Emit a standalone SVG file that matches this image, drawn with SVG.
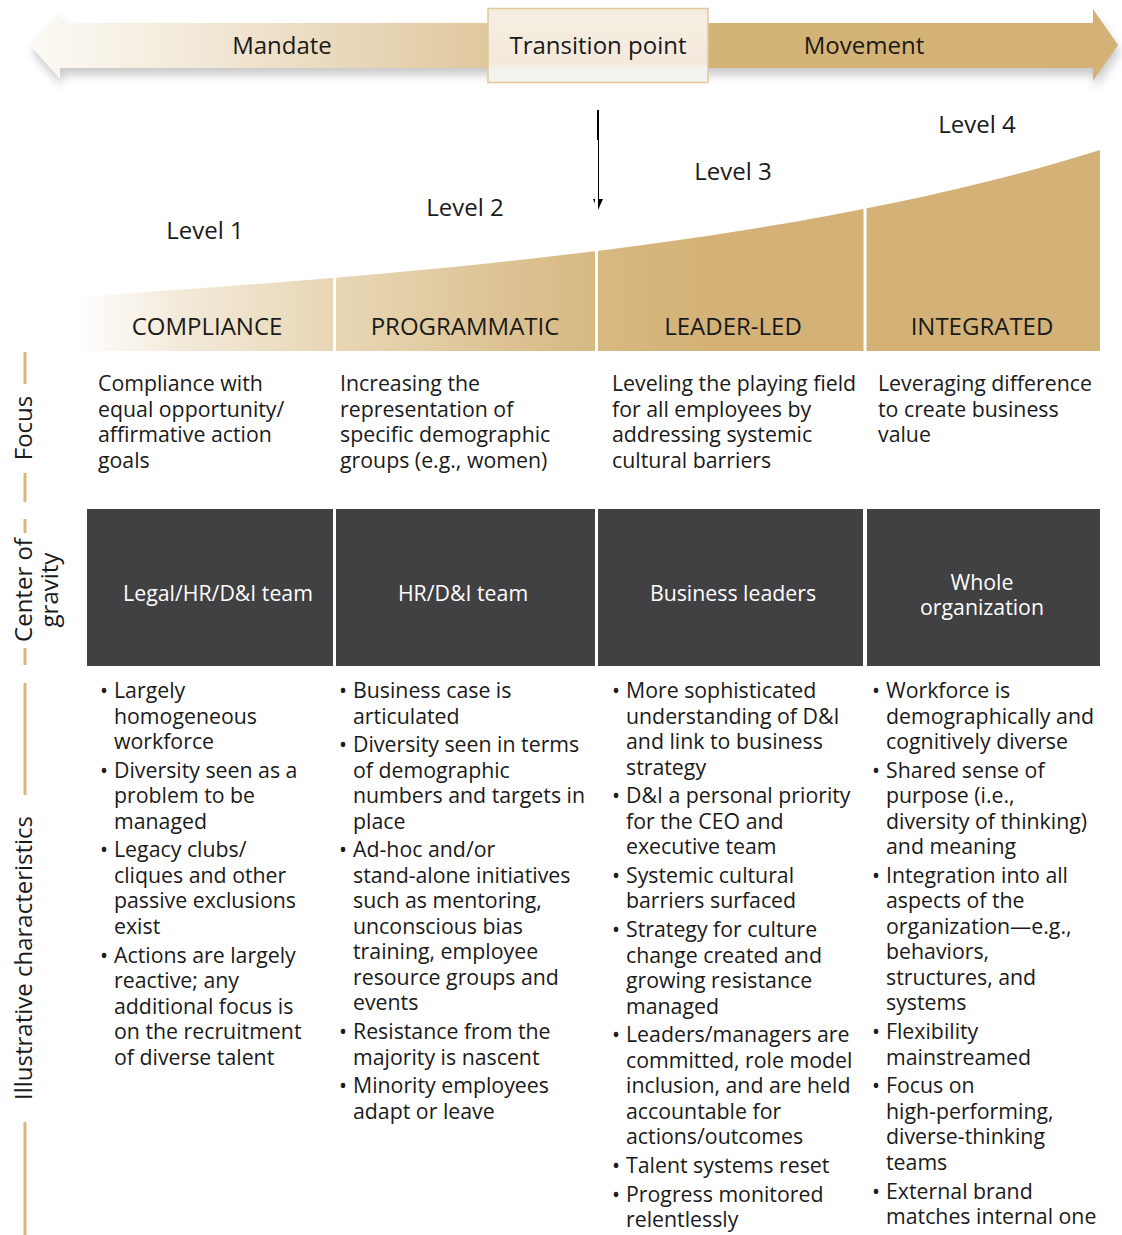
<svg xmlns="http://www.w3.org/2000/svg" width="1122" height="1235" viewBox="0 0 1122 1235">
<style>
text{font-family:"Open Sans","Noto Sans","Liberation Sans",sans-serif;fill:#1a1a1a}
.t22{font-size:24px}
.c{text-anchor:middle}
.b{font-size:21.3px}
.w{fill:#ffffff;font-size:21.3px;text-anchor:middle}
.gold{stroke:#d9b877;stroke-width:3;fill:none}
.dark{fill:#414042}
</style>
<defs>
<linearGradient id="ag" x1="30" y1="0" x2="1118" y2="0" gradientUnits="userSpaceOnUse">
<stop offset="0" stop-color="#fcfaf5"/>
<stop offset="0.17" stop-color="#f1e7d5"/>
<stop offset="0.45" stop-color="#dec497"/>
<stop offset="0.62" stop-color="#d4b377"/>
<stop offset="1" stop-color="#d4b277"/>
</linearGradient>
<linearGradient id="cg" x1="75" y1="0" x2="1100" y2="0" gradientUnits="userSpaceOnUse">
<stop offset="0" stop-color="#ffffff"/>
<stop offset="0.1" stop-color="#f3eadb"/>
<stop offset="0.25" stop-color="#e8d7b6"/>
<stop offset="0.5" stop-color="#d7b983"/>
<stop offset="0.62" stop-color="#d4b277"/>
<stop offset="1" stop-color="#d4b277"/>
</linearGradient>
<linearGradient id="tg" x1="0" y1="0" x2="0" y2="1">
<stop offset="0" stop-color="#f6eee2"/>
<stop offset="0.75" stop-color="#f3eadc"/>
<stop offset="0.8" stop-color="#f3f1ec"/>
<stop offset="1" stop-color="#f5f3ef"/>
</linearGradient>
<filter id="sh" x="-5%" y="-30%" width="110%" height="180%">
<feDropShadow dx="2" dy="7" stdDeviation="5" flood-color="#888888" flood-opacity="0.45"/>
</filter>
</defs>

<g id="top-arrow">
<polygon points="30,45 60,11 60,23 1093,23 1093,9 1118,45 1093,81 1093,68 60,68 60,79" fill="url(#ag)" filter="url(#sh)"/>
<text class="t22 c" x="282" y="54">Mandate</text>
<text class="t22 c" x="864" y="54">Movement</text>
</g>
<g id="transition-point">
<rect x="488" y="8.5" width="220" height="74" fill="url(#tg)" stroke="#e2c89b" stroke-width="1.5"/>
<text class="t22 c" x="598" y="54">Transition point</text>
</g>

<g id="connectors">
<line x1="598" y1="110" x2="598" y2="202" stroke="#000" stroke-width="2"/>
<path d="M593,199 L603,199 L598,210 Z" fill="#000"/>
</g>

<g id="levels">
<path d="M75,297 C400,275 800,245 1100,150 L1100,351 L75,351 Z" fill="url(#cg)"/>
<line x1="334.5" y1="140" x2="334.5" y2="352" stroke="#fff" stroke-width="3"/>
<line x1="596.5" y1="140" x2="596.5" y2="352" stroke="#fff" stroke-width="3"/>
<line x1="865" y1="140" x2="865" y2="352" stroke="#fff" stroke-width="3"/>
<text class="t22 c" x="205" y="239">Level 1</text>
<text class="t22 c" x="465" y="216">Level 2</text>
<text class="t22 c" x="733" y="180">Level 3</text>
<text class="t22 c" x="977" y="133">Level 4</text>
<text class="t22 c" x="207" y="335">COMPLIANCE</text>
<text class="t22 c" x="465" y="335">PROGRAMMATIC</text>
<text class="t22 c" x="733" y="335">LEADER-LED</text>
<text class="t22 c" x="982" y="335">INTEGRATED</text>
</g>

<g id="row-labels">
<line class="gold" x1="25" y1="352" x2="25" y2="384"/>
<line class="gold" x1="25" y1="473" x2="25" y2="502"/>
<line class="gold" x1="25" y1="519" x2="25" y2="533"/>
<line class="gold" x1="25" y1="648" x2="25" y2="665"/>
<line class="gold" x1="25" y1="683" x2="25" y2="795"/>
<line class="gold" x1="25" y1="1122" x2="25" y2="1235"/>
<text class="t22 c" transform="translate(32,428) rotate(-90)">Focus</text>
<text class="t22 c" transform="translate(32,590) rotate(-90)">Center of</text>
<text class="t22 c" transform="translate(58,590) rotate(-90)">gravity</text>
<text class="t22 c" transform="translate(32,958) rotate(-90)">Illustrative characteristics</text>
</g>

<g id="focus">
<text class="b" x="98" y="391">Compliance with<tspan x="98" dy="25.7">equal opportunity/</tspan><tspan x="98" dy="25.7">affirmative action</tspan><tspan x="98" dy="25.7">goals</tspan></text>
<text class="b" x="340" y="391">Increasing the<tspan x="340" dy="25.7">representation of</tspan><tspan x="340" dy="25.7">specific demographic</tspan><tspan x="340" dy="25.7">groups (e.g., women)</tspan></text>
<text class="b" x="612" y="391">Leveling the playing field<tspan x="612" dy="25.7">for all employees by</tspan><tspan x="612" dy="25.7">addressing systemic</tspan><tspan x="612" dy="25.7">cultural barriers</tspan></text>
<text class="b" x="878" y="391">Leveraging difference<tspan x="878" dy="25.7">to create business</tspan><tspan x="878" dy="25.7">value</tspan></text>
</g>

<g id="gravity">
<rect class="dark" x="87" y="509" width="246" height="157"/>
<rect class="dark" x="336" y="509" width="259" height="157"/>
<rect class="dark" x="598" y="509" width="265" height="157"/>
<rect class="dark" x="867" y="509" width="233" height="157"/>
<text class="w" x="218" y="601">Legal/HR/D&amp;I team</text>
<text class="w" x="463" y="601">HR/D&amp;I team</text>
<text class="w" x="733" y="601">Business leaders</text>
<text class="w" x="982" y="590">Whole</text>
<text class="w" x="982" y="615">organization</text>
</g>

<g id="characteristics-1">
<text class="b" x="100" y="698">•</text>
<text class="b" x="114" y="698">Largely<tspan x="114" dy="25.5">homogeneous</tspan><tspan x="114" dy="25.5">workforce</tspan></text>
<text class="b" x="100" y="777.7">•</text>
<text class="b" x="114" y="777.7">Diversity seen as a<tspan x="114" dy="25.5">problem to be</tspan><tspan x="114" dy="25.5">managed</tspan></text>
<text class="b" x="100" y="857.4">•</text>
<text class="b" x="114" y="857.4">Legacy clubs/<tspan x="114" dy="25.5">cliques and other</tspan><tspan x="114" dy="25.5">passive exclusions</tspan><tspan x="114" dy="25.5">exist</tspan></text>
<text class="b" x="100" y="962.6">•</text>
<text class="b" x="114" y="962.6">Actions are largely<tspan x="114" dy="25.5">reactive; any</tspan><tspan x="114" dy="25.5">additional focus is</tspan><tspan x="114" dy="25.5">on the recruitment</tspan><tspan x="114" dy="25.5">of diverse talent</tspan></text>
</g>

<g id="characteristics-2">
<text class="b" x="339" y="698">•</text>
<text class="b" x="353" y="698">Business case is<tspan x="353" dy="25.5">articulated</tspan></text>
<text class="b" x="339" y="752.2">•</text>
<text class="b" x="353" y="752.2">Diversity seen in terms<tspan x="353" dy="25.5">of demographic</tspan><tspan x="353" dy="25.5">numbers and targets in</tspan><tspan x="353" dy="25.5">place</tspan></text>
<text class="b" x="339" y="857.4">•</text>
<text class="b" x="353" y="857.4">Ad-hoc and/or<tspan x="353" dy="25.5">stand-alone initiatives</tspan><tspan x="353" dy="25.5">such as mentoring,</tspan><tspan x="353" dy="25.5">unconscious bias</tspan><tspan x="353" dy="25.5">training, employee</tspan><tspan x="353" dy="25.5">resource groups and</tspan><tspan x="353" dy="25.5">events</tspan></text>
<text class="b" x="339" y="1039.1">•</text>
<text class="b" x="353" y="1039.1">Resistance from the<tspan x="353" dy="25.5">majority is nascent</tspan></text>
<text class="b" x="339" y="1093.3">•</text>
<text class="b" x="353" y="1093.3">Minority employees<tspan x="353" dy="25.5">adapt or leave</tspan></text>
</g>

<g id="characteristics-3">
<text class="b" x="612" y="698">•</text>
<text class="b" x="626" y="698">More sophisticated<tspan x="626" dy="25.5">understanding of D&amp;I</tspan><tspan x="626" dy="25.5">and link to business</tspan><tspan x="626" dy="25.5">strategy</tspan></text>
<text class="b" x="612" y="803.2">•</text>
<text class="b" x="626" y="803.2">D&amp;I a personal priority<tspan x="626" dy="25.5">for the CEO and</tspan><tspan x="626" dy="25.5">executive team</tspan></text>
<text class="b" x="612" y="882.9">•</text>
<text class="b" x="626" y="882.9">Systemic cultural<tspan x="626" dy="25.5">barriers surfaced</tspan></text>
<text class="b" x="612" y="937.1">•</text>
<text class="b" x="626" y="937.1">Strategy for culture<tspan x="626" dy="25.5">change created and</tspan><tspan x="626" dy="25.5">growing resistance</tspan><tspan x="626" dy="25.5">managed</tspan></text>
<text class="b" x="612" y="1042.3">•</text>
<text class="b" x="626" y="1042.3">Leaders/managers are<tspan x="626" dy="25.5">committed, role model</tspan><tspan x="626" dy="25.5">inclusion, and are held</tspan><tspan x="626" dy="25.5">accountable for</tspan><tspan x="626" dy="25.5">actions/outcomes</tspan></text>
<text class="b" x="612" y="1173">•</text>
<text class="b" x="626" y="1173">Talent systems reset</text>
<text class="b" x="612" y="1201.7">•</text>
<text class="b" x="626" y="1201.7">Progress monitored<tspan x="626" dy="25.5">relentlessly</tspan></text>
</g>

<g id="characteristics-4">
<text class="b" x="872" y="698">•</text>
<text class="b" x="886" y="698">Workforce is<tspan x="886" dy="25.5">demographically and</tspan><tspan x="886" dy="25.5">cognitively diverse</tspan></text>
<text class="b" x="872" y="777.7">•</text>
<text class="b" x="886" y="777.7">Shared sense of<tspan x="886" dy="25.5">purpose (i.e.,</tspan><tspan x="886" dy="25.5">diversity of thinking)</tspan><tspan x="886" dy="25.5">and meaning</tspan></text>
<text class="b" x="872" y="882.9">•</text>
<text class="b" x="886" y="882.9">Integration into all<tspan x="886" dy="25.5">aspects of the</tspan><tspan x="886" dy="25.5">organization—e.g.,</tspan><tspan x="886" dy="25.5">behaviors,</tspan><tspan x="886" dy="25.5">structures, and</tspan><tspan x="886" dy="25.5">systems</tspan></text>
<text class="b" x="872" y="1039.1">•</text>
<text class="b" x="886" y="1039.1">Flexibility<tspan x="886" dy="25.5">mainstreamed</tspan></text>
<text class="b" x="872" y="1093.3">•</text>
<text class="b" x="886" y="1093.3">Focus on<tspan x="886" dy="25.5">high-performing,</tspan><tspan x="886" dy="25.5">diverse-thinking</tspan><tspan x="886" dy="25.5">teams</tspan></text>
<text class="b" x="872" y="1198.5">•</text>
<text class="b" x="886" y="1198.5">External brand<tspan x="886" dy="25.5">matches internal one</tspan></text>
</g>
</svg>
